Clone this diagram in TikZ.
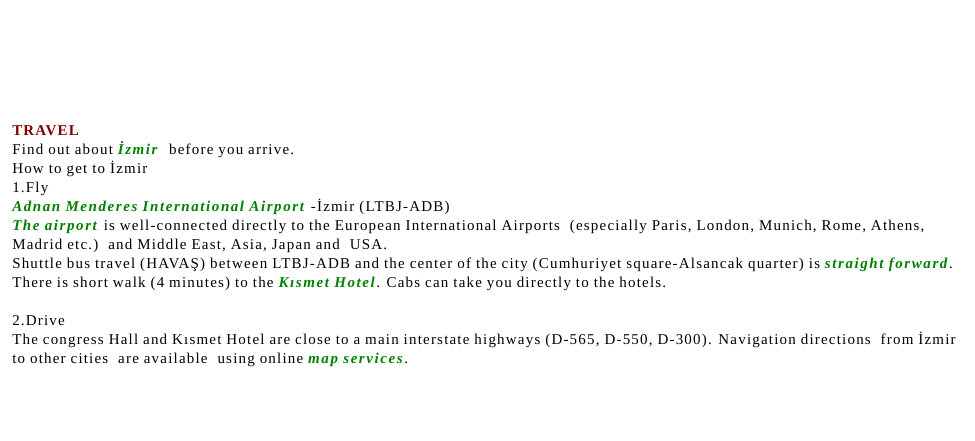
\documentclass[tikz,border=0pt]{standalone}
\usepackage{fontspec}
\setmainfont[LetterSpace=8.0,BoldItalicFeatures={LetterSpace=10.5}]{Liberation Serif}
\usepackage{tikz}
\definecolor{travelred}{HTML}{800000}
\definecolor{linkgreen}{HTML}{008000}
\newcommand{\hl}[1]{\textcolor{linkgreen}{\textbf{\textit{#1}}}}

\begin{document}
\begin{tikzpicture}
      [x=0.75pt,y=-0.75pt,
       textline/.style={anchor=base west,inner sep=0pt,font=\fontsize{11.25pt}{14pt}\selectfont}]
    \useasboundingbox (0,0) rectangle (975,441);
    \node[textline] (title) at (12,135.5) {\textcolor{travelred}{\textbf{TRAVEL}}};
    \node[textline] (find)  at (12,154.5) {Find out about \hl{İzmir}\ \ before you arrive.};
    \node[textline] (how)   at (12,173.5) {How to get to İzmir};
    \node[textline] (fly)   at (12,192.5) {1.Fly};
    \node[textline] (adb)   at (12,211.5) {\hl{Adnan Menderes International Airport} -İzmir (LTBJ-ADB)};
    \node[textline] (air1)  at (12,230.5) {\hl{The airport} is well-connected directly to the European International Airports\ \ (especially Paris, London, Munich, Rome, Athens,};
    \node[textline] (air2)  at (12,249.5) {Madrid etc.)\ \ and Middle East, Asia, Japan and\ \ USA.};
    \node[textline] (bus)   at (12,268.5) {Shuttle bus travel (HAVAŞ) between LTBJ-ADB and the center of the city (Cumhuriyet square-Alsancak quarter) is \hl{straight forward}.};
    \node[textline] (walk)  at (12,287.5) {There is short walk (4 minutes) to the \hl{Kısmet Hotel}. Cabs can take you directly to the hotels.};
    \node[textline] (drive) at (12,325.5) {2.Drive};
    \node[textline] (hwy1)  at (12,344.5) {The congress Hall and Kısmet Hotel are close to a main interstate highways (D-565, D-550, D-300). Navigation directions\ \ from İzmir};
    \node[textline] (hwy2)  at (12,363.5) {to other cities\ \ are available\ \ using online \hl{map services}.};
\end{tikzpicture}
\end{document}
